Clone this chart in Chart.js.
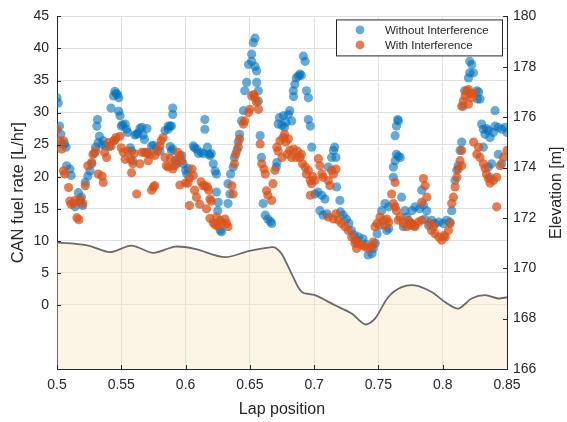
<!DOCTYPE html>
<html lang="en">
<head>
<meta charset="UTF-8">
<title>CAN fuel rate vs lap position</title>
<script src="https://cdn.jsdelivr.net/npm/chart.js"></script>
<style>
    html, body { margin: 0; padding: 0; background: #fff; }
    #wrap { width: 567px; height: 422px; }
</style>
</head>
<body>
<div id="wrap"><canvas id="fuelChart" width="567" height="422"></canvas></div>
<script>
// Without Interference (blue)
const blueLap = [
    0.500,0.501,0.502,0.503,0.504,0.506,0.507,0.5075,0.510,0.511,
    0.514,0.5166,0.518,0.519,0.520,0.522,0.524,0.5257,0.527,0.529,
    0.530,0.531,0.5315,0.532,0.533,0.535,0.536,0.538,0.541,0.542,
    0.544,0.545,0.546,0.547,0.548,0.548,0.549,0.550,0.551,0.553,
    0.554,0.555,0.557,0.558,0.559,0.5606,0.562,0.563,0.5645,0.566,
    0.567,0.568,0.570,0.570,0.5736,0.575,0.5775,0.580,0.584,0.5865,
    0.588,0.589,0.590,0.590,0.5865,0.588,0.589,0.590,0.5917,0.593,
    0.597,0.598,0.600,0.601,0.602,0.606,0.607,0.6085,0.610,0.612,
    0.6137,0.615,0.615,0.617,0.618,0.619,0.620,0.6215,0.623,0.624,
    0.624,0.6254,0.625,0.627,0.628,0.633,0.633,0.6345,0.635,0.637,
    0.638,0.640,0.641,0.642,0.6436,0.645,0.646,0.6475,0.649,0.6514,
    0.6514,0.6527,0.654,0.654,0.6553,0.6553,0.6566,0.6566,0.658,0.659,
    0.6604,0.662,0.664,0.666,0.667,0.6705,0.671,0.672,0.673,0.675,
    0.676,0.677,0.678,0.6799,0.681,0.6825,0.6838,0.684,0.685,0.686,
    0.6877,0.689,0.690,0.6916,0.693,0.694,0.6955,0.6955,0.697,0.6981,
    0.7006,0.703,0.7045,0.706,0.707,0.7084,0.710,0.711,0.7136,0.715,
    0.716,0.717,0.7175,0.720,0.7205,0.7227,0.725,0.727,0.729,0.731,
    0.733,0.7345,0.738,0.740,0.742,0.745,0.746,0.7475,0.749,0.751,
    0.7525,0.7551,0.758,0.758,0.7565,0.7616,0.7616,0.763,0.764,0.7655,
    0.767,0.763,0.764,0.7655,0.765,0.768,0.7707,0.772,0.7694,0.775,
    0.776,0.778,0.7785,0.782,0.7837,0.785,0.7876,0.786,0.789,0.7914,
    0.794,0.797,0.8005,0.803,0.8057,0.807,0.8096,0.811,0.812,0.8135,
    0.8148,0.816,0.817,0.820,0.821,0.821,0.8226,0.8239,0.8265,0.828,
    0.829,0.827,0.8303,0.8316,0.8316,0.8329,0.834,0.8355,0.8355,0.8368,
    0.8368,0.838,0.8394,0.8407,0.8407,0.8433,0.8433,0.8459,0.8459,0.8485,
    0.850
];
const blueFuel = [
    32.3,31.5,27.9,26.6,25.1,25.1,24.6,21.7,21.2,20.2,
    15.3,17.5,16.2,16.8,15.5,19.1,20.1,20.9,22.0,23.6,
    24.6,27.9,28.9,25.3,26.3,25.0,25.6,24.8,24.7,30.7,
    32.6,33.3,33.0,32.8,32.3,30.2,29.5,27.9,28.1,28.2,
    27.4,26.9,24.5,24.0,22.5,26.5,26.6,26.8,27.5,27.7,
    26.5,25.8,27.5,23.8,24.8,24.9,24.5,24.0,27.2,27.9,
    27.9,27.9,30.7,29.7,27.4,24.7,24.0,24.3,22.5,22.0,
    23.3,22.0,21.0,20.4,21.3,24.8,24.5,24.3,23.6,23.8,
    23.6,28.9,27.4,24.6,23.5,23.3,23.6,22.0,20.9,20.4,
    17.6,16.0,14.7,11.6,11.4,18.9,15.8,17.3,20.4,21.5,
    23.0,24.1,25.4,26.6,28.7,30.3,33.4,34.7,37.5,38.0,
    39.1,40.9,41.6,37.2,36.5,34.7,33.4,31.8,26.4,23.0,
    15.8,14.0,13.4,13.0,12.7,21.5,22.2,28.2,29.2,28.0,
    29.5,27.7,28.5,29.7,30.3,28.7,33.4,32.5,34.4,35.4,
    35.7,36.0,35.8,38.8,38.0,33.4,32.3,28.9,27.9,24.6,
    17.3,17.6,14.7,17.1,14.0,16.5,14.2,21.5,23.0,24.1,
    24.6,23.0,18.4,16.3,14.5,14.0,13.4,12.7,11.6,10.9,
    10.1,10.6,10.3,9.5,7.8,8.0,8.8,9.6,11.1,12.4,
    14.7,15.8,15.3,11.9,11.6,19.9,21.5,22.5,23.5,23.2,
    23.0,26.4,27.9,28.7,28.9,16.8,14.7,13.7,12.2,12.7,
    14.7,12.4,15.3,15.0,17.9,15.6,14.7,13.4,12.4,13.2,
    12.7,12.9,12.7,13.2,12.9,14.7,19.4,21.0,21.7,24.1,
    25.4,31.0,33.4,35.4,36.2,38.0,37.5,36.2,33.4,33.2,
    32.1,32.1,28.2,27.4,24.6,26.6,27.5,27.2,21.5,26.1,
    19.9,22.0,26.9,27.9,30.3,27.7,23.5,27.4,22.0,27.7,
    26.9
];

// With Interference (orange)
const orangeLap = [
    0.500,0.502,0.5036,0.505,0.505,0.506,0.509,0.510,0.511,0.513,
    0.514,0.5155,0.517,0.518,0.520,0.522,0.524,0.527,0.528,0.530,
    0.532,0.535,0.536,0.537,0.5386,0.540,0.542,0.544,0.545,0.546,
    0.549,0.550,0.5516,0.553,0.555,0.557,0.558,0.559,0.560,0.562,
    0.5645,0.566,0.568,0.570,0.571,0.5725,0.5736,0.575,0.576,0.576,
    0.578,0.580,0.581,0.5826,0.584,0.585,0.5865,0.588,0.590,0.5915,
    0.593,0.594,0.5955,0.5956,0.597,0.600,0.602,0.603,0.603,0.605,
    0.606,0.607,0.6085,0.611,0.612,0.6135,0.615,0.6163,0.617,0.618,
    0.619,0.619,0.620,0.6215,0.623,0.624,0.625,0.627,0.628,0.6307,
    0.632,0.633,0.636,0.637,0.638,0.639,0.641,0.642,0.645,0.646,
    0.649,0.650,0.6514,0.653,0.654,0.6553,0.6566,0.658,0.6592,0.661,
    0.662,0.663,0.664,0.667,0.668,0.6695,0.671,0.672,0.6734,0.675,
    0.676,0.677,0.678,0.679,0.680,0.681,0.6825,0.684,0.686,0.687,
    0.689,0.690,0.691,0.693,0.694,0.6955,0.697,0.697,0.698,0.699,
    0.7006,0.7033,0.7045,0.706,0.707,0.711,0.711,0.7123,0.7136,0.715,
    0.715,0.717,0.717,0.7188,0.7214,0.724,0.7266,0.7292,0.7318,0.7318,
    0.733,0.7345,0.737,0.7395,0.742,0.745,0.746,0.7474,0.749,0.7512,
    0.754,0.7551,0.7564,0.758,0.7603,0.7616,0.763,0.763,0.764,0.7655,
    0.7668,0.7694,0.772,0.7733,0.775,0.776,0.7785,0.781,0.7837,0.7837,
    0.785,0.7863,0.7876,0.7901,0.7914,0.793,0.794,0.797,0.7992,0.801,
    0.802,0.8044,0.8057,0.807,0.8083,0.8096,0.811,0.812,0.8135,0.8148,
    0.8148,0.8148,0.816,0.8174,0.8187,0.820,0.820,0.821,0.8226,0.824,
    0.824,0.8265,0.8278,0.829,0.8316,0.833,0.834,0.8355,0.8368,0.8394,
    0.842,0.842,0.8446,0.8472,0.850
];
const orangeFuel = [
    27.4,25.6,24.3,25.6,20.9,20.4,18.3,16.2,15.7,15.8,
    16.3,13.6,13.3,16.5,15.8,18.6,21.7,22.2,23.5,24.0,
    20.4,20.1,19.1,23.8,23.0,25.3,24.8,25.6,25.7,26.1,
    26.3,24.5,23.8,22.7,24.0,22.7,20.6,22.0,23.6,17.3,
    22.0,23.8,23.8,23.6,22.5,23.5,17.9,18.4,18.6,23.3,
    24.0,24.8,25.6,26.1,23.0,21.7,21.5,22.8,21.2,21.7,
    22.5,23.8,23.3,18.7,22.5,19.0,19.0,19.8,15.5,21.2,
    20.2,17.9,16.8,15.7,19.2,18.6,18.6,15.0,18.4,17.9,
    16.5,13.5,16.2,12.8,12.5,13.7,12.3,13.2,12.7,13.4,
    12.7,12.2,18.6,17.3,22.0,23.5,24.6,25.9,28.2,28.7,
    30.0,30.5,32.6,32.8,32.3,31.6,30.5,25.1,22.0,21.2,
    20.4,17.8,17.1,16.3,18.9,21.0,24.6,24.0,25.6,23.0,
    26.1,26.6,25.4,23.5,25.9,24.1,23.0,24.3,23.0,24.0,
    23.0,23.5,22.0,21.5,20.4,21.0,19.4,17.1,18.9,20.0,
    19.4,22.8,21.7,20.4,19.9,19.4,13.7,18.6,21.0,20.4,
    13.4,21.2,14.2,13.2,12.7,12.2,11.6,10.6,9.6,10.1,
    8.8,9.6,9.3,9.1,8.8,9.1,9.8,12.2,12.7,13.7,
    13.2,12.4,13.4,12.9,17.3,15.8,19.1,15.3,14.7,13.2,
    13.7,12.7,12.2,13.2,12.4,12.7,12.2,12.9,13.2,16.0,
    19.7,18.6,16.8,12.7,11.6,12.2,11.1,10.6,10.1,10.8,
    10.6,11.6,12.7,15.8,16.8,18.4,19.9,21.2,22.5,24.1,
    21.7,31.0,31.8,32.6,33.4,33.6,31.3,32.9,32.3,33.0,
    25.4,23.5,24.6,23.0,22.0,21.3,20.4,19.7,19.0,19.4,
    15.3,19.9,21.7,23.0,24.1
];

// Elevation profile (right axis)
const elevLap = [0.5, 0.5244, 0.5412, 0.558, 0.5749, 0.5918, 0.6073, 0.6307, 0.6488, 0.667,
    0.6696, 0.6748, 0.6825, 0.6903, 0.7007, 0.7162, 0.7292, 0.7396, 0.7473, 0.7577,
    0.7681, 0.7784, 0.7914, 0.8018, 0.8121, 0.8225, 0.8329, 0.8433, 0.85];
const elevM = [171.03, 170.90, 170.64, 170.90, 170.61, 170.86, 170.77, 170.44, 170.68, 170.84,
    170.82, 170.57, 169.78, 169.06, 168.93, 168.53, 168.20, 167.77, 168.0, 168.86,
    169.25, 169.32, 169.06, 168.66, 168.40, 168.80, 168.93, 168.80, 168.85];

const xTicks = [0.5, 0.55, 0.6, 0.65, 0.7, 0.75, 0.8, 0.85];
const seriesNames = ['Without Interference', 'With Interference'];
const blueColor = 'rgba(0, 114, 189, 0.6)';
const orangeColor = 'rgba(217, 83, 25, 0.75)';
const textColor = '#262626';
const fontFamily = "'Liberation Sans', Arial, Helvetica, sans-serif";

function pairs(xs, ys) {
    return xs.map((x, i) => ({ x: x, y: ys[i] }));
}

// box legend in the top right corner, like MATLAB
const boxLegend = {
    id: 'boxLegend',
    afterDraw(chart) {
        const ctx = chart.ctx;
        const a = chart.chartArea;
        const x0 = a.right - 171, y0 = a.top + 3, w = 166, h = 36;
        ctx.save();
        ctx.fillStyle = '#fff';
        ctx.fillRect(x0, y0, w, h);
        ctx.strokeStyle = textColor;
        ctx.lineWidth = 1;
        ctx.strokeRect(x0 + 0.5, y0 + 0.5, w, h);
        ctx.font = '11.5px ' + fontFamily;
        ctx.textBaseline = 'middle';
        ctx.textAlign = 'left';
        [blueColor, orangeColor].forEach((c, i) => {
            const cy = y0 + 10.5 + i * 15;
            ctx.fillStyle = c;
            ctx.beginPath();
            ctx.arc(x0 + 24, cy, 4.4, 0, Math.PI * 2);
            ctx.fill();
            ctx.fillStyle = textColor;
            ctx.fillText(seriesNames[i], x0 + 49, cy + 0.5);
        });
        ctx.restore();
    }
};

// right axis title reads bottom-to-top, plus inward tick marks
const axisExtras = {
    id: 'axisExtras',
    afterDraw(chart) {
        const ctx = chart.ctx;
        const a = chart.chartArea;
        const sx = chart.scales.x, sy = chart.scales.y, sy2 = chart.scales.y2;
        ctx.save();
        ctx.strokeStyle = textColor;
        ctx.lineWidth = 1;
        ctx.beginPath();
        sy.ticks.forEach(t => {
            if (t.value < 0) return;
            const p = Math.round(sy.getPixelForValue(t.value)) + 0.5;
            ctx.moveTo(a.left, p); ctx.lineTo(a.left + 4, p);
        });
        sy2.ticks.forEach(t => {
            const p = Math.round(sy2.getPixelForValue(t.value)) + 0.5;
            ctx.moveTo(a.right, p); ctx.lineTo(a.right - 4, p);
        });
        sx.ticks.forEach(t => {
            const p = Math.round(sx.getPixelForValue(t.value)) + 0.5;
            ctx.moveTo(p, a.bottom); ctx.lineTo(p, a.bottom - 4);
        });
        ctx.stroke();
        ctx.translate(557, (a.top + a.bottom) / 2);
        ctx.rotate(-Math.PI / 2);
        ctx.fillStyle = textColor;
        ctx.font = '16px ' + fontFamily;
        ctx.textAlign = 'center';
        ctx.textBaseline = 'middle';
        ctx.fillText('Elevation [m]', 0, 0);
        ctx.restore();
    }
};

new Chart(document.getElementById('fuelChart'), {
    type: 'scatter',
    data: {
        datasets: [
            {
                label: seriesNames[1],
                data: pairs(orangeLap, orangeFuel),
                yAxisID: 'y',
                backgroundColor: orangeColor,
                borderWidth: 0,
                pointRadius: 4.6,
                order: 1
            },
            {
                label: seriesNames[0],
                data: pairs(blueLap, blueFuel),
                yAxisID: 'y',
                backgroundColor: blueColor,
                borderWidth: 0,
                pointRadius: 4.6,
                order: 2
            },
            {
                type: 'line',
                label: 'Elevation',
                data: pairs(elevLap, elevM),
                yAxisID: 'y2',
                borderColor: '#6a6a6a',
                borderWidth: 1.8,
                backgroundColor: 'rgba(245, 226, 180, 0.35)',
                fill: 'start',
                pointRadius: 0,
                tension: 0.3,
                order: 3
            }
        ]
    },
    options: {
        responsive: false,
        animation: false,
        devicePixelRatio: 1,
        layout: { padding: { top: 15, left: 0, right: 0, bottom: 0 } },
        plugins: {
            legend: { display: false },
            tooltip: { enabled: false }
        },
        scales: {
            x: {
                type: 'linear',
                min: 0.5,
                max: 0.85,
                afterBuildTicks: s => { s.ticks = xTicks.map(v => ({ value: v })); },
                afterFit: s => { s.height = 53; },
                ticks: {
                    color: textColor,
                    font: { family: fontFamily, size: 14 },
                    padding: 8,
                    maxRotation: 0,
                    callback: v => String(Number(v.toFixed(2)))
                },
                grid: { color: '#e0e0e0', drawTicks: false },
                border: { color: textColor, width: 1 },
                title: {
                    display: true,
                    text: 'Lap position',
                    color: textColor,
                    font: { family: fontFamily, size: 16 },
                    padding: { top: 0, bottom: 3 }
                }
            },
            y: {
                position: 'left',
                min: -10,
                max: 45,
                afterFit: s => { s.width = 57; },
                ticks: {
                    stepSize: 5,
                    color: textColor,
                    font: { family: fontFamily, size: 14 },
                    padding: 8,
                    callback: v => (v < 0 ? '' : v)
                },
                grid: {
                    drawTicks: false,
                    color: c => (c.tick && c.tick.value < 0 ? 'rgba(0,0,0,0)' : '#e0e0e0')
                },
                border: { color: textColor, width: 1 },
                title: {
                    display: true,
                    text: 'CAN fuel rate [L/hr]',
                    color: textColor,
                    font: { family: fontFamily, size: 16.5 },
                    padding: { top: 9, bottom: 0 }
                }
            },
            y2: {
                position: 'right',
                min: 166,
                max: 180,
                afterFit: s => { s.width = 60; },
                ticks: {
                    stepSize: 2,
                    color: textColor,
                    font: { family: fontFamily, size: 14 },
                    padding: 6
                },
                grid: { drawOnChartArea: false, drawTicks: false },
                border: { color: textColor, width: 1 }
            }
        }
    },
    plugins: [boxLegend, axisExtras]
});
</script>
</body>
</html>
